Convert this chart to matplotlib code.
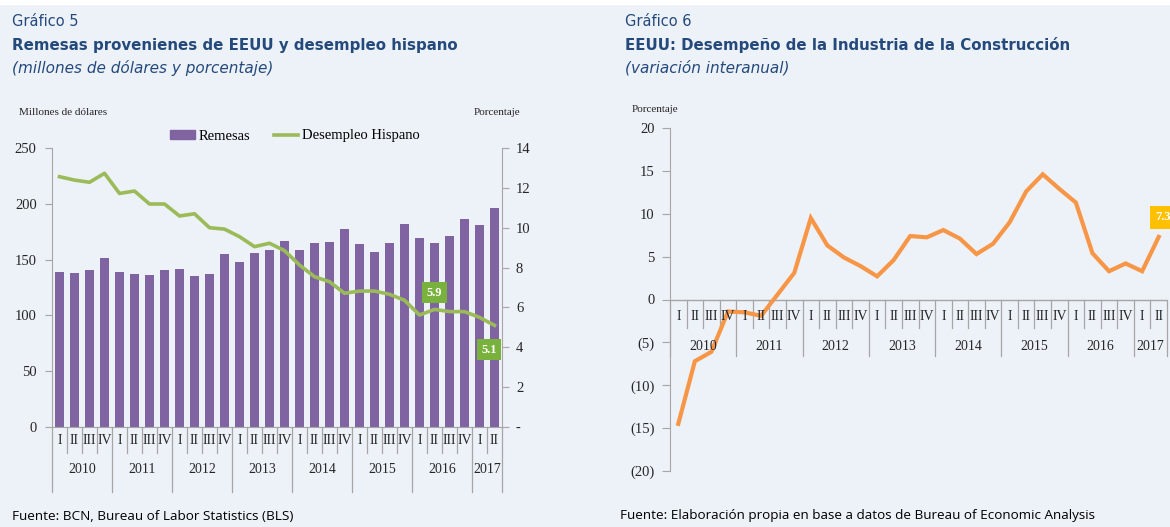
import matplotlib
matplotlib.use("Agg")
import matplotlib.pyplot as plt
from matplotlib.patches import Rectangle, Patch
from matplotlib.lines import Line2D

# data
quarters = ['I', 'II', 'III', 'IV'] * 7 + ['I', 'II']
years = ['2010', '2011', '2012', '2013', '2014', '2015', '2016', '2017']
year_len = [4, 4, 4, 4, 4, 4, 4, 2]

remesas = [139, 138, 141, 151, 139, 137, 136, 141, 142, 135, 137, 155, 148, 156, 159,
           167, 159, 165, 166, 177, 164, 157, 165, 182, 169, 165, 171, 186, 181, 196]
desempleo = [12.56, 12.39, 12.28, 12.73, 11.72, 11.84, 11.19, 11.19, 10.59, 10.70,
             10.0, 9.93, 9.55, 9.05, 9.22, 8.85, 8.13, 7.54, 7.29, 6.71,
             6.82, 6.82, 6.66, 6.36, 5.62, 5.9, 5.79, 5.79, 5.5, 5.1]
construccion = [-14.5, -7.2, -6.1, -1.4, -1.5, -1.9, 0.6, 3.1, 9.5, 6.3,
                4.9, 3.9, 2.7, 4.6, 7.4, 7.25, 8.1, 7.1, 5.3, 6.5,
                9.0, 12.6, 14.6, 12.9, 11.3, 5.4, 3.3, 4.2, 3.3, 7.3]

W, H = 1170, 527
BG = '#EDF1F8'
BLUE = '#244A7C'
GREY = '#A6A6A6'
TXT = '#262626'
SERIF = 'Liberation Serif'

fig = plt.figure(figsize=(W / 100, H / 100), dpi=100, facecolor=BG)
fig.patches.append(Rectangle((0, 1 - 4 / H), 1, 4 / H, transform=fig.transFigure,
                             color='white', zorder=0))


def px_axes(l, t, r, b):
    return fig.add_axes([l / W, 1 - b / H, (r - l) / W, (b - t) / H])


def ftext(x, y, s, **kw):
    fig.text(x / W, 1 - y / H, s, **kw)


def cat_axis(ax, trans, q_y, y_y, q_bot, y_bot, top):
    # quarter labels, year labels and separator lines under the axis
    for i, q in enumerate(quarters):
        ax.text(i, q_y, q, transform=trans, ha='center', va='center',
                family=SERIF, fontsize=10, color=TXT, clip_on=False)
    bounds = [-0.5]
    pos = -0.5
    for y, n in zip(years, year_len):
        ax.text(pos + n / 2, y_y, y, transform=trans, ha='center', va='center',
                family=SERIF, fontsize=10, color=TXT, clip_on=False)
        pos += n
        bounds.append(pos)
    for i in range(len(quarters) + 1):
        x = i - 0.5
        bot = y_bot if x in bounds else q_bot
        ax.add_line(Line2D([x, x], [top, bot], transform=trans, color=GREY,
                           lw=0.9, clip_on=False))


# ---------------- Gráfico 5 ----------------
ftext(12, 21, 'Gráfico 5', fontsize=10.5, color=BLUE, va='center')
ftext(12, 45, 'Remesas provenienes de EEUU y desempleo hispano', fontsize=10.8,
      color=BLUE, weight='bold', va='center')
ftext(12, 68, '(millones de dólares y porcentaje)', fontsize=11, color=BLUE,
      style='italic', va='center')
ftext(19, 113, 'Millones de dólares', family=SERIF, fontsize=8, color=TXT, va='center')
ftext(474, 113, 'Porcentaje', family=SERIF, fontsize=8, color=TXT, va='center')

ax1 = px_axes(52, 148, 502, 427)
ax1.set_facecolor('none')
x = list(range(len(remesas)))
ax1.bar(x, remesas, width=0.58, color='#8064A2', zorder=2)
ax1.set_xlim(-0.5, len(remesas) - 0.5)
ax1.set_ylim(0, 250)
ax1.set_yticks(range(0, 251, 50))
ax1.set_xticks([])
for s in ['top', 'right']:
    ax1.spines[s].set_visible(False)
ax1.spines['left'].set_color(GREY)
ax1.spines['bottom'].set_color(GREY)
ax1.tick_params(axis='y', direction='out', length=5, color=GREY, labelsize=10.5,
                labelcolor=TXT, pad=6)
for lab in ax1.get_yticklabels():
    lab.set_family(SERIF)
cat_axis(ax1, ax1.get_xaxis_transform(), -0.047, -0.154, -0.093, -0.233, 0)

ax2 = ax1.twinx()
ax2.set_facecolor('none')
ax2.plot(x, desempleo, color='#9BBB59', lw=2.6, zorder=3)
ax2.set_ylim(0, 14)
ax2.set_yticks(range(0, 15, 2))
ax2.set_yticklabels(['-'] + [str(v) for v in range(2, 15, 2)])
for s in ['top', 'left', 'bottom']:
    ax2.spines[s].set_visible(False)
ax2.spines['right'].set_color(GREY)
ax2.tick_params(axis='y', direction='out', length=5, color=GREY, labelsize=10.5,
                labelcolor=TXT, pad=5)
for lab in ax2.get_yticklabels():
    lab.set_family(SERIF)

for idx, off in [(25, (0, 12)), (29, (-4, -17.5))]:
    ax2.annotate(f'{desempleo[idx]:.1f}', (idx, desempleo[idx]), xytext=off,
                 textcoords='offset points', ha='center', va='center',
                 family=SERIF, fontsize=9, color='white', weight='bold',
                 bbox=dict(boxstyle='square,pad=0.35', fc='#78B23C', ec='none'),
                 zorder=5)

handles = [Patch(color='#8064A2'), Line2D([], [], color='#9BBB59', lw=2.6)]
fig.legend(handles, ['Remesas', 'Desempleo Hispano'], loc='center',
           bbox_to_anchor=(295 / W, 1 - 136 / H), ncol=2, frameon=False,
           prop={'family': SERIF, 'size': 10.5}, handlelength=1.7,
           handletextpad=0.25, columnspacing=1.6, handleheight=0.6)

# ---------------- Gráfico 6 ----------------
ftext(625, 21, 'Gráfico 6', fontsize=10.5, color=BLUE, va='center')
ftext(625, 45, 'EEUU: Desempeño de la Industria de la Construcción', fontsize=10.8,
      color=BLUE, weight='bold', va='center')
ftext(625, 68, '(variación interanual)', fontsize=11, color=BLUE,
      style='italic', va='center')
ftext(632, 110, 'Porcentaje', family=SERIF, fontsize=8, color=TXT, va='center')

ax3 = px_axes(670, 128, 1167, 471)
ax3.set_facecolor('none')
ax3.plot(x, construccion, color='#F79646', lw=3, zorder=3, solid_joinstyle='miter')
ax3.set_xlim(-0.5, len(construccion) - 0.5)
ax3.set_ylim(-20, 20)
ax3.set_yticks(range(-20, 21, 5))
ax3.set_yticklabels([f'({-v})' if v < 0 else str(v) for v in range(-20, 21, 5)])
ax3.set_xticks([])
for s in ['top', 'right', 'bottom']:
    ax3.spines[s].set_visible(False)
ax3.spines['left'].set_color(GREY)
ax3.axhline(0, color=GREY, lw=1, zorder=1)
ax3.tick_params(axis='y', direction='out', length=6, color=GREY, labelsize=10.5,
                labelcolor=TXT, pad=5)
for lab in ax3.get_yticklabels():
    lab.set_family(SERIF)
cat_axis(ax3, ax3.transData, -2.03, -5.5, -3.3, -6.6, 0)

ax3.annotate(f'{construccion[-1]:.1f}', (29, construccion[-1]), xytext=(3, 14),
             textcoords='offset points', ha='center', va='center',
             family=SERIF, fontsize=9, color='white', weight='bold',
             bbox=dict(boxstyle='square,pad=0.45', fc='#FFC000', ec='none'),
             zorder=5, annotation_clip=False)

# sources
ftext(12, 516, 'Fuente: BCN, Bureau of Labor Statistics (BLS)', family='Open Sans',
      fontsize=9.7, color='black', va='center')
ftext(620, 516, 'Fuente: Elaboración propia en base a datos de Bureau of Economic Analysis',
      family='Open Sans', fontsize=9.7, color='black', va='center')

fig.savefig('out.png', dpi=100, facecolor=BG)
